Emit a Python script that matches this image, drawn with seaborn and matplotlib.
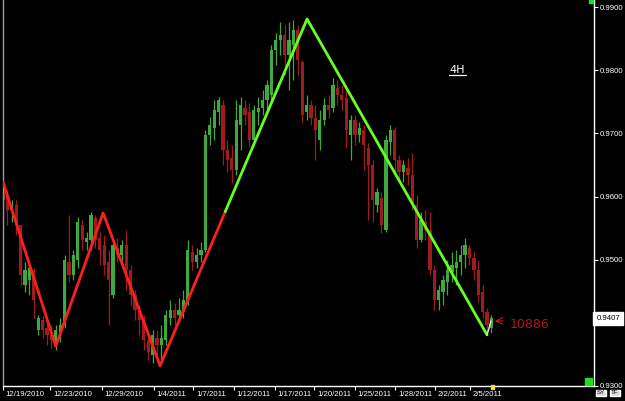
import numpy as np
import pandas as pd
import matplotlib
matplotlib.use("Agg")
import matplotlib.pyplot as plt
import matplotlib.transforms as mtransforms
from matplotlib import font_manager
from matplotlib.patches import Rectangle
import seaborn as sns

# ---- data (prices x 10000), one 4H candle every second bar slot ----
open_ = [9618, 9602, 9579, 9587, 9555, 9460, 9468, 9484, 9389, 9404,
         9392, 9381, 9370, 9386, 9397, 9496, 9476, 9499, 9555, 9528,
         9531, 9566, 9534, 9523, 9496, 9444, 9518, 9507, 9523, 9484,
         9444, 9420, 9404, 9373, 9349, 9376, 9365, 9373, 9408, 9420,
         9412, 9417, 9436, 9512, 9496, 9507, 9515, 9697, 9708, 9734,
         9745, 9674, 9661, 9642, 9713, 9740, 9734, 9689, 9734, 9740,
         9753, 9761, 9832, 9848, 9856, 9824, 9840, 9864, 9813, 9734,
         9745, 9724, 9689, 9721, 9745, 9740, 9772, 9761, 9756, 9697,
         9721, 9697, 9705, 9677, 9650, 9587, 9598, 9547, 9686, 9705,
         9658, 9639, 9645, 9634, 9587, 9531, 9560, 9547, 9484, 9436,
         9449, 9465, 9480, 9487, 9496, 9507, 9518, 9503, 9484, 9449,
         9417, 9392]
close = [9594, 9579, 9587, 9555, 9476, 9484, 9487, 9436, 9408, 9389,
         9381, 9373, 9389, 9397, 9499, 9476, 9507, 9560, 9531, 9534,
         9571, 9531, 9515, 9492, 9468, 9523, 9507, 9523, 9484, 9444,
         9420, 9404, 9373, 9354, 9381, 9365, 9376, 9412, 9420, 9408,
         9420, 9436, 9515, 9496, 9507, 9515, 9697, 9713, 9737, 9753,
         9674, 9658, 9642, 9721, 9745, 9729, 9689, 9737, 9740, 9753,
         9776, 9832, 9848, 9856, 9824, 9848, 9864, 9816, 9729, 9745,
         9724, 9705, 9721, 9745, 9737, 9776, 9761, 9753, 9705, 9721,
         9697, 9708, 9682, 9650, 9594, 9607, 9555, 9689, 9705, 9658,
         9639, 9650, 9634, 9587, 9531, 9563, 9547, 9484, 9436, 9452,
         9468, 9484, 9492, 9496, 9507, 9523, 9503, 9484, 9444, 9417,
         9397, 9408]
high = [9626, 9610, 9594, 9594, 9555, 9496, 9492, 9487, 9412, 9411,
        9401, 9397, 9397, 9408, 9507, 9571, 9515, 9568, 9563, 9544,
        9575, 9571, 9544, 9539, 9515, 9526, 9534, 9531, 9547, 9492,
        9452, 9428, 9412, 9389, 9389, 9389, 9397, 9420, 9436, 9431,
        9439, 9452, 9531, 9523, 9518, 9528, 9705, 9726, 9753, 9757,
        9753, 9689, 9682, 9753, 9757, 9753, 9748, 9745, 9757, 9769,
        9784, 9840, 9859, 9876, 9871, 9876, 9879, 9871, 9816, 9761,
        9753, 9745, 9737, 9756, 9761, 9788, 9784, 9776, 9776, 9729,
        9729, 9718, 9713, 9685, 9658, 9613, 9607, 9697, 9713, 9710,
        9666, 9658, 9661, 9669, 9602, 9575, 9579, 9575, 9492, 9460,
        9476, 9499, 9512, 9515, 9523, 9534, 9523, 9512, 9499, 9460,
        9423, 9412]
low = [9571, 9555, 9560, 9539, 9460, 9449, 9444, 9408, 9381, 9376,
       9365, 9360, 9357, 9370, 9392, 9465, 9468, 9487, 9515, 9515,
       9515, 9518, 9492, 9476, 9397, 9439, 9496, 9492, 9452, 9428,
       9404, 9381, 9357, 9341, 9336, 9349, 9341, 9365, 9397, 9397,
       9401, 9408, 9428, 9484, 9487, 9496, 9512, 9682, 9689, 9713,
       9650, 9639, 9621, 9634, 9674, 9713, 9678, 9682, 9713, 9729,
       9737, 9753, 9808, 9824, 9792, 9769, 9784, 9792, 9718, 9721,
       9713, 9658, 9674, 9713, 9724, 9734, 9745, 9737, 9677, 9658,
       9682, 9686, 9642, 9563, 9560, 9575, 9542, 9544, 9666, 9634,
       9626, 9623, 9618, 9579, 9518, 9528, 9531, 9476, 9420, 9420,
       9428, 9444, 9465, 9460, 9476, 9487, 9492, 9468, 9433, 9408,
       9384, 9384]

# zigzag swing points (bar index, price x 10000)
zz_red_idx = [0, 24, 45.5, 71.4, 101]
zz_red_price = [9623, 9363, 9574, 9332, 9576]
zz_green_idx = [101, 138.2, 220]
zz_green_price = [9576, 9881, 9381]
zz_white_idx = [220, 221.8]
zz_white_price = [9381, 9403]

date_ticks = [0, 21.4, 45, 68.6, 86.4, 105, 123.6, 141.4, 160, 178.2, 196.4, 212.3]
date_labels = ["12/19/2010", "12/23/2010", "12/29/2010", "1/4/2011", "1/7/2011",
               "1/12/2011", "1/17/2011", "1/20/2011", "1/25/2011", "1/28/2011",
               "2/2/2011", "2/5/2011"]
price_ticks = [0.9300, 0.9400, 0.9500, 0.9600, 0.9700, 0.9800, 0.9900]
last_price = 0.9407
timeframe = "4H"
arrow_label = "10886"

# ---- build frame ----
df = pd.DataFrame({"open": open_, "close": close, "high": high, "low": low}) / 10000.0
df["x"] = np.arange(len(df)) * 2
df["up"] = df["close"] >= df["open"]

sns.set_theme(style="dark", rc={"axes.facecolor": "black", "figure.facecolor": "black",
                                "axes.grid": False})
plt.rcParams["font.family"] = ["DejaVu Sans"]

installed = {f.name for f in font_manager.fontManager.ttflist}
if "Liberation Sans Narrow" in installed:
    TICK_FONT, TICK_SIZE = "Liberation Sans Narrow", 6.3
else:
    TICK_FONT, TICK_SIZE = "Liberation Sans", 5.6

fig = plt.figure(figsize=(6.25, 4.01), dpi=100)
ax = fig.add_axes([3 / 625, 15 / 401, 591 / 625, 386 / 401])
ax.set_facecolor("black")

GREEN_C = "#3fa83f"
RED_C = "#a01c1c"
cols = np.where(df["up"], GREEN_C, RED_C)

ax.vlines(df["x"], df["low"], df["high"], colors=cols, lw=0.9, zorder=2)
body_bottom = np.minimum(df["open"], df["close"])
body_h = np.maximum(np.abs(df["close"] - df["open"]), 0.00015)
ax.bar(df["x"], body_h, bottom=body_bottom, width=1.5, color=cols, linewidth=0, zorder=2)

zr = pd.DataFrame({"x": zz_red_idx, "y": np.array(zz_red_price) / 10000})
zg = pd.DataFrame({"x": zz_green_idx, "y": np.array(zz_green_price) / 10000})
zw = pd.DataFrame({"x": zz_white_idx, "y": np.array(zz_white_price) / 10000})
sns.lineplot(data=zr, x="x", y="y", ax=ax, color="#ff1e1e", lw=2.0, sort=False,
             estimator=None, zorder=4)
sns.lineplot(data=zg, x="x", y="y", ax=ax, color="#66ff22", lw=2.0, sort=False,
             estimator=None, zorder=4)
sns.lineplot(data=zw, x="x", y="y", ax=ax, color="#e8e8e8", lw=1.0, sort=False,
             estimator=None, zorder=4)

# axes limits
ax.set_xlim(0, 268.6)
ax.set_ylim(0.9300, 0.99111)

# spines
ax.spines["top"].set_visible(False)
ax.spines["left"].set_color("#9a9a9a")
ax.spines["left"].set_linewidth(1.0)
ax.spines["right"].set_color("white")
ax.spines["right"].set_linewidth(1.0)
ax.spines["bottom"].set_color("white")
ax.spines["bottom"].set_linewidth(1.0)

# x ticks
ax.set_xticks(date_ticks)
ax.set_xticklabels(date_labels, fontfamily=TICK_FONT)
ax.tick_params(axis="x", direction="out", length=3, width=0.8, color="white",
               labelcolor="white", labelsize=TICK_SIZE, pad=0.5, bottom=True)
offset = mtransforms.ScaledTranslation(2 / 72, 0, fig.dpi_scale_trans)
for lab in ax.get_xticklabels():
    lab.set_horizontalalignment("left")
    lab.set_transform(lab.get_transform() + offset)

# y ticks on right
ax.yaxis.tick_right()
ax.set_yticks(price_ticks)
ax.set_yticklabels([f"{v:.4f}" for v in price_ticks], fontfamily=TICK_FONT)
ax.tick_params(axis="y", direction="out", length=3, width=0.8, color="white",
               labelcolor="white", labelsize=TICK_SIZE, pad=1, right=True, left=False)
ax.set_xlabel("")
ax.set_ylabel("")

# last price box
trans = mtransforms.blended_transform_factory(ax.transAxes, ax.transData)
ax.text(1.004, last_price, f"{last_price:.4f}", transform=trans, ha="left", va="center",
        fontsize=TICK_SIZE, fontfamily=TICK_FONT, color="black", zorder=10, clip_on=False,
        bbox=dict(boxstyle="square,pad=0.4", fc="white", ec="white"))

# timeframe label with underline
ax.text(206.4, 0.9801, timeframe, color="white", fontsize=8, ha="center", va="center")
ax.plot([202.6, 210.2], [0.97925, 0.97925], color="white", lw=0.9)

# arrow and label
ax.annotate("", xy=(222.3, 0.9403), xytext=(228.5, 0.9403),
            arrowprops=dict(arrowstyle="->", color="#c02020", lw=0.8))
ax.text(230.5, 0.9397, arrow_label, color="#b01818", fontsize=9, ha="left", va="center")

# small decorations
ax.add_patch(Rectangle((0.985, 0.002), 0.012, 0.018, transform=ax.transAxes,
                       color="#22dd22", zorder=5, clip_on=False))
ax.add_patch(Rectangle((0.991, 0.992), 0.008, 0.008, transform=ax.transAxes,
                       color="#22dd22", zorder=5, clip_on=False))
ax.add_patch(Rectangle((222.0, 0.9296), 1.2, 0.0006, color="#f0e040", zorder=5,
                       clip_on=False))
fig.text(597 / 625, 1 - 393 / 401, "SY", fontsize=4.5, fontfamily=TICK_FONT, color="black",
         ha="left", va="center",
         bbox=dict(boxstyle="square,pad=0.15", fc="#dddddd", ec="white"))
fig.text(611 / 625, 1 - 393 / 401, "TF", fontsize=4.5, fontfamily=TICK_FONT, color="black",
         ha="left", va="center",
         bbox=dict(boxstyle="square,pad=0.15", fc="#dddddd", ec="white"))

fig.savefig("out.png", dpi=100, facecolor="black")
